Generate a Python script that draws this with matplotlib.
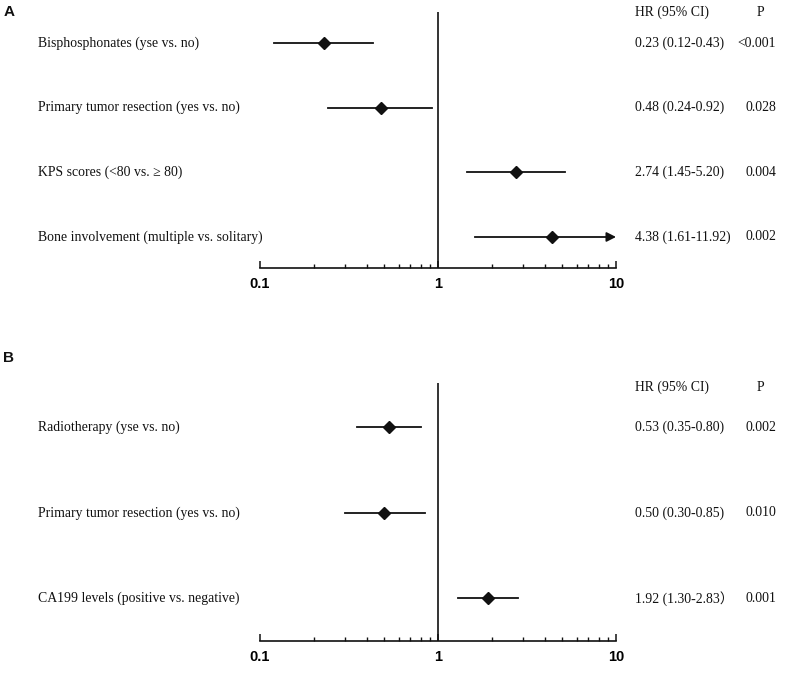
import matplotlib
matplotlib.use("Agg")
import matplotlib.pyplot as plt
import matplotlib.transforms as mtransforms
from matplotlib.ticker import LogLocator, NullFormatter, FixedLocator, FixedFormatter

# ---------------- data ----------------
A_labels = ["Bisphosphonates (yse vs. no)",
            "Primary tumor resection (yes vs. no)",
            "KPS scores (<80 vs. \u2265 80)",
            "Bone involvement (multiple vs. solitary)"]
A_hr = [0.23, 0.48, 2.74, 4.38]
A_lo = [0.12, 0.24, 1.45, 1.61]
A_hi = [0.43, 0.92, 5.20, 11.92]
A_ci_text = ["0.23 (0.12-0.43)", "0.48 (0.24-0.92)", "2.74 (1.45-5.20)", "4.38 (1.61-11.92)"]
A_p = ["<0.001", "0.028", "0.004", "0.002"]

B_labels = ["Radiotherapy (yse vs. no)",
            "Primary tumor resection (yes vs. no)",
            "CA199 levels (positive vs. negative)"]
B_hr = [0.53, 0.50, 1.92]
B_lo = [0.35, 0.30, 1.30]
B_hi = [0.80, 0.85, 2.83]
B_ci_text = ["0.53 (0.35-0.80)", "0.50 (0.30-0.85)", "1.92 (1.30-2.83\uff09"]
B_p = ["0.002", "0.010", "0.001"]

x_ticks = [0.1, 1, 10]
x_ticklabels = ["0.1", "1", "10"]
header_hr = "HR (95% CI)"
header_p = "P"
panel_names = ["A", "B"]

W, H = 785, 680
fig = plt.figure(figsize=(W / 100, H / 100), dpi=100)
fig.patch.set_facecolor("white")

SERIF = ["Liberation Serif", "DejaVu Serif", "Noto Sans CJK SC"]
TXT_SIZE = 9.9
COL = "#111111"

def px2fx(x):
    return x / W

def draw_panel(rect, labels, hr, lo, hi, ci_text, pvals, ylim, header_y, name, name_y):
    ax = fig.add_axes(rect)
    n = len(labels)
    ys = list(range(n, 0, -1))
    xmin, xmax = x_ticks[0], x_ticks[-1]
    ax.set_xscale("log")
    ax.set_xlim(xmin, xmax)
    ax.set_ylim(*ylim)
    for s in ["top", "right", "left"]:
        ax.spines[s].set_visible(False)
    ax.spines["bottom"].set_linewidth(1.2)
    ax.spines["bottom"].set_color(COL)
    ax.axvline(1, color=COL, lw=1.2, zorder=1)
    ax.yaxis.set_visible(False)
    ax.xaxis.set_major_locator(FixedLocator(x_ticks))
    ax.xaxis.set_major_formatter(FixedFormatter(x_ticklabels))
    ax.xaxis.set_minor_locator(LogLocator(base=10, subs=[2, 3, 4, 5, 6, 7, 8, 9]))
    ax.xaxis.set_minor_formatter(NullFormatter())
    ax.tick_params(axis="x", which="major", direction="in", length=5, width=1.1,
                   color=COL, pad=6.5)
    ax.tick_params(axis="x", which="minor", direction="in", length=3, width=1.0, color=COL)
    for lab in ax.get_xticklabels():
        lab.set_fontfamily(["Liberation Sans", "DejaVu Sans"])
        lab.set_fontweight("bold")
        lab.set_fontsize(10.5)
    ax.set_facecolor("none")

    for y, h, l, u in zip(ys, hr, lo, hi):
        if u > xmax:
            ax.plot([l, xmax * 0.96], [y, y], color=COL, lw=1.3, zorder=2, clip_on=False)
            ax.annotate("", xy=(xmax, y), xytext=(xmax * 0.9, y),
                        arrowprops=dict(arrowstyle="-|>,head_length=0.55,head_width=0.28",
                                        color=COL, lw=1.3, shrinkA=0, shrinkB=0),
                        annotation_clip=False)
        else:
            ax.plot([l, u], [y, y], color=COL, lw=1.3, zorder=2)
        ax.plot([h], [y], marker="D", ms=5.8, color=COL, zorder=3)

    trans = mtransforms.blended_transform_factory(fig.transFigure, ax.transData)
    for y, lab, ct, p in zip(ys, labels, ci_text, pvals):
        ax.text(px2fx(38), y, lab, transform=trans, ha="left", va="center",
                fontsize=TXT_SIZE, family=SERIF, color=COL)
        ax.text(px2fx(635), y, ct, transform=trans, ha="left", va="center",
                fontsize=TXT_SIZE, family=SERIF, color=COL)
        ax.text(px2fx(776), y, p, transform=trans, ha="right", va="center",
                fontsize=TXT_SIZE, family=SERIF, color=COL)
    ax.text(px2fx(635), header_y, header_hr, transform=trans, ha="left", va="center",
            fontsize=TXT_SIZE, family=SERIF, color=COL)
    ax.text(px2fx(760), header_y, header_p, transform=trans, ha="center", va="center",
            fontsize=TXT_SIZE, family=SERIF, color=COL)
    fig.text(px2fx(9), 1 - name_y / H, name, ha="center", va="center",
             fontsize=11, fontweight="bold", family=["Liberation Sans", "DejaVu Sans"],
             color=COL)
    return ax

rectA = [260 / W, (H - 268) / H, (616 - 260) / W, (268 - 12) / H]
rectB = [260 / W, (H - 641) / H, (616 - 260) / W, (641 - 383) / H]

draw_panel(rectA, A_labels, A_hr, A_lo, A_hi, A_ci_text, A_p,
           (0.52, 4.48), 4.48, panel_names[0], 12)
draw_panel(rectB, B_labels, B_hr, B_lo, B_hi, B_ci_text, B_p,
           (0.5, 3.52), 3.47, panel_names[1], 358)

fig.savefig("out.png", dpi=100, facecolor="white")
